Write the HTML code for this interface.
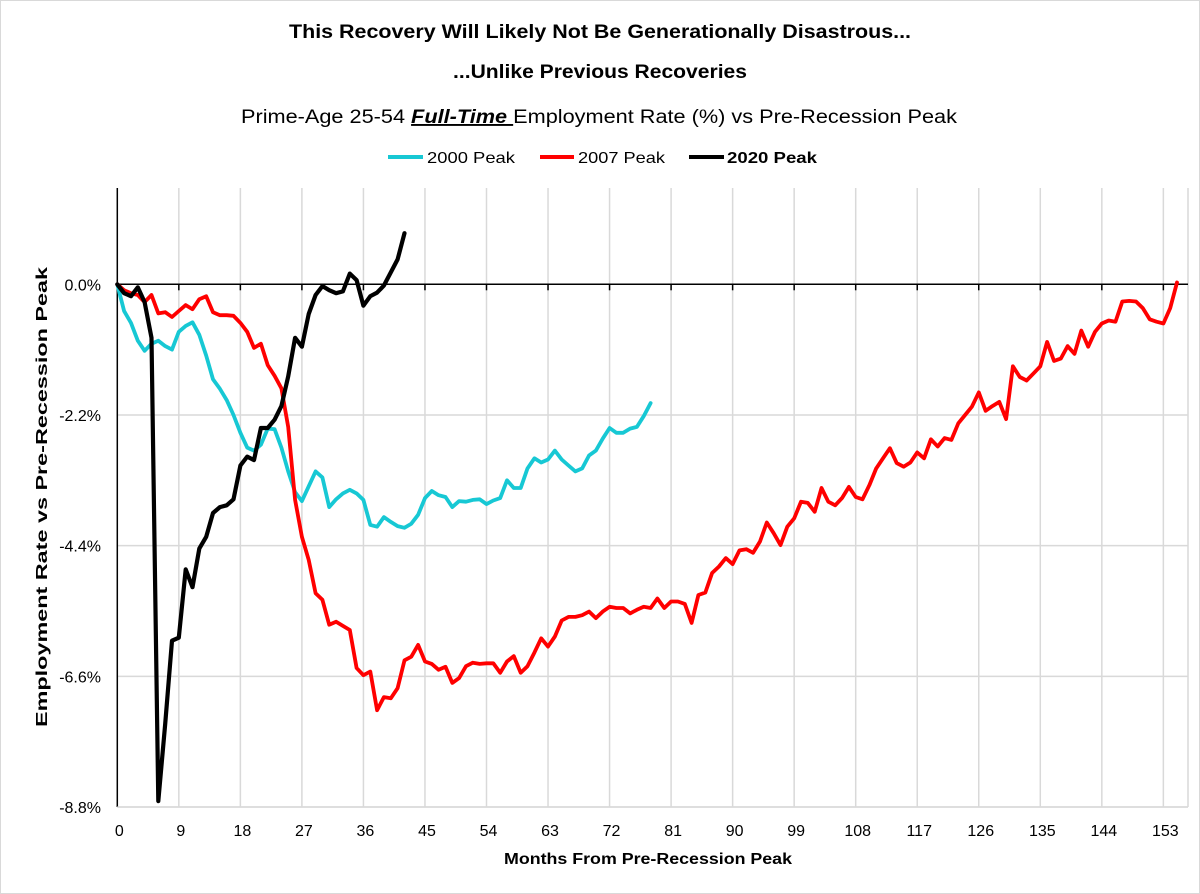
<!DOCTYPE html>
<html><head><meta charset="utf-8"><style>
html,body{margin:0;padding:0;background:#fff}
svg{display:block;font-family:"Liberation Sans",sans-serif}
</style></head><body>
<svg id="chart" width="1200" height="894" viewBox="0 0 1200 894" xmlns="http://www.w3.org/2000/svg">
<rect x="0.5" y="0.5" width="1199" height="893" fill="#fff" stroke="#d9d9d9"/>
<text x="600" y="38" text-anchor="middle" font-size="19" font-weight="bold" textLength="622" lengthAdjust="spacingAndGlyphs">This Recovery Will Likely Not Be Generationally Disastrous...</text>
<text x="600" y="78" text-anchor="middle" font-size="19" font-weight="bold" textLength="294" lengthAdjust="spacingAndGlyphs">...Unlike Previous Recoveries</text>
<text x="241" y="123" font-size="19" textLength="716" lengthAdjust="spacingAndGlyphs">Prime-Age 25-54 <tspan font-style="italic" font-weight="bold" text-decoration="underline">Full-Time </tspan>Employment Rate (%) vs  Pre-Recession Peak</text>
<g font-size="16">
<g><line x1="388" y1="157" x2="423" y2="157" stroke="#17c8d4" stroke-width="4"/><text x="427" y="163" textLength="88" lengthAdjust="spacingAndGlyphs">2000 Peak</text></g>
<g><line x1="540" y1="157" x2="574" y2="157" stroke="#ff0000" stroke-width="4"/><text x="578" y="163" textLength="87" lengthAdjust="spacingAndGlyphs">2007 Peak</text></g>
<g><line x1="689" y1="157" x2="724" y2="157" stroke="#000" stroke-width="4"/><text x="727" y="163" font-weight="bold" textLength="90" lengthAdjust="spacingAndGlyphs">2020 Peak</text></g>
</g>
<g id="grid"></g>
<g id="axes"></g>
<g id="series"></g>
<text x="648" y="864" text-anchor="middle" font-size="16" font-weight="bold" textLength="288" lengthAdjust="spacingAndGlyphs">Months From Pre-Recession Peak</text>
<text transform="translate(47,497) rotate(-90)" text-anchor="middle" font-size="16" font-weight="bold" textLength="460" lengthAdjust="spacingAndGlyphs">Employment Rate vs Pre-Recession Peak</text>
</svg>
<script>
const xTicks = [0,9,18,27,36,45,54,63,72,81,90,99,108,117,126,135,144,153];
const yTicks = [0,-2.2,-4.4,-6.6,-8.8];
const yTickLabels = ["0.0%","-2.2%","-4.4%","-6.6%","-8.8%"];
const series2000 = [0,-0.45,-0.65,-0.95,-1.12,-1.0,-0.95,-1.04,-1.1,-0.8,-0.7,-0.64,-0.85,-1.2,-1.6,-1.76,-1.95,-2.2,-2.5,-2.75,-2.8,-2.7,-2.43,-2.44,-2.75,-3.15,-3.5,-3.65,-3.4,-3.15,-3.25,-3.75,-3.62,-3.52,-3.46,-3.52,-3.63,-4.05,-4.08,-3.92,-4.0,-4.07,-4.1,-4.03,-3.88,-3.6,-3.48,-3.55,-3.58,-3.75,-3.65,-3.66,-3.63,-3.62,-3.7,-3.64,-3.6,-3.3,-3.43,-3.43,-3.1,-2.93,-3.0,-2.95,-2.8,-2.95,-3.05,-3.15,-3.1,-2.88,-2.8,-2.6,-2.42,-2.5,-2.5,-2.43,-2.4,-2.22,-2.0];
const series2007 = [0,-0.1,-0.15,-0.18,-0.3,-0.18,-0.49,-0.47,-0.55,-0.45,-0.35,-0.42,-0.25,-0.2,-0.47,-0.52,-0.52,-0.53,-0.65,-0.8,-1.07,-1.0,-1.36,-1.54,-1.75,-2.4,-3.63,-4.25,-4.64,-5.2,-5.31,-5.73,-5.68,-5.75,-5.82,-6.46,-6.58,-6.52,-7.17,-6.95,-6.97,-6.8,-6.33,-6.27,-6.07,-6.35,-6.39,-6.49,-6.44,-6.71,-6.63,-6.43,-6.37,-6.39,-6.38,-6.38,-6.54,-6.35,-6.26,-6.54,-6.43,-6.2,-5.96,-6.1,-5.93,-5.66,-5.6,-5.6,-5.57,-5.51,-5.62,-5.51,-5.43,-5.45,-5.45,-5.54,-5.48,-5.43,-5.45,-5.29,-5.45,-5.34,-5.34,-5.38,-5.7,-5.23,-5.19,-4.86,-4.75,-4.61,-4.71,-4.48,-4.46,-4.52,-4.33,-4.01,-4.19,-4.39,-4.08,-3.94,-3.66,-3.68,-3.83,-3.43,-3.66,-3.72,-3.6,-3.41,-3.58,-3.62,-3.38,-3.1,-2.93,-2.76,-3.01,-3.07,-3.0,-2.83,-2.93,-2.61,-2.73,-2.59,-2.62,-2.34,-2.2,-2.06,-1.82,-2.13,-2.05,-1.98,-2.27,-1.38,-1.56,-1.62,-1.5,-1.38,-0.97,-1.29,-1.25,-1.04,-1.17,-0.78,-1.05,-0.8,-0.66,-0.61,-0.63,-0.29,-0.28,-0.29,-0.4,-0.59,-0.63,-0.66,-0.4,0.03];
const series2020 = [0,-0.15,-0.2,-0.05,-0.3,-0.9,-8.7,-7.4,-6.0,-5.95,-4.8,-5.1,-4.45,-4.25,-3.85,-3.75,-3.72,-3.62,-3.05,-2.9,-2.96,-2.42,-2.42,-2.28,-2.05,-1.55,-0.9,-1.05,-0.5,-0.18,-0.03,-0.1,-0.15,-0.12,0.18,0.07,-0.36,-0.2,-0.14,-0.02,0.2,0.42,0.86];

const NS="http://www.w3.org/2000/svg";
const X0=117.3, XPX=6.837, Y0=284.3, YPX=59.4, TOP=188, BOT=807, RIGHT=1188;
function xs(m){return X0+m*XPX;}
function ys(v){return Y0-v*YPX;}
function mk(tag,attrs,parent){const e=document.createElementNS(NS,tag);for(const k in attrs)e.setAttribute(k,attrs[k]);parent.appendChild(e);return e;}
const grid=document.getElementById('grid'), axes=document.getElementById('axes'), ser=document.getElementById('series');
xTicks.forEach(t=>{
  if(t>0){const g=mk('line',{x1:xs(t),x2:xs(t),y1:TOP,y2:BOT,stroke:'#d9d9d9','stroke-width':1.5},grid);
  
  }
  const tk=mk('line',{x1:xs(t),x2:xs(t),y1:ys(0),y2:ys(0)+6,stroke:'#000','stroke-width':1.5},axes);
  
  
  const lb=mk('text',{x:xs(t)+2,y:836,'text-anchor':'middle','font-size':16},axes);
  lb.textContent=t;
  
  
});
mk('line',{x1:RIGHT,x2:RIGHT,y1:TOP,y2:BOT,stroke:'#d9d9d9','stroke-width':1.5},grid);
yTicks.forEach((t,i)=>{
  if(t!==0){const g=mk('line',{x1:X0,x2:RIGHT,y1:ys(t),y2:ys(t),stroke:'#d9d9d9','stroke-width':1.5},grid);
  
  }
  const lb=mk('text',{x:101,y:ys(t)+6,'text-anchor':'end','font-size':16},axes);
  lb.textContent=yTickLabels[i];
  
  
});
const zl=mk('line',{x1:X0,x2:RIGHT,y1:ys(0),y2:ys(0),stroke:'#000','stroke-width':1.5},axes);


const ya=mk('line',{x1:X0,x2:X0,y1:TOP,y2:BOT,stroke:'#000','stroke-width':1.5},axes);


const xa=mk('line',{x1:X0,x2:RIGHT,y1:BOT,y2:BOT,stroke:'#d9d9d9','stroke-width':1.5},axes);


function draw(arr,color,w,name){
  const d=arr.map((v,i)=>(i?'L':'M')+xs(i).toFixed(1)+' '+ys(v).toFixed(1)).join(' ');
  const p=mk('path',{d:d,fill:'none',stroke:color,'stroke-width':w,'stroke-linejoin':'round','stroke-linecap':'round'},ser);
  
  
}
draw(series2000,'#17c8d4',3.8,'series-2000-peak');
draw(series2007,'#ff0000',3.8,'series-2007-peak');
draw(series2020,'#000000',4.2,'series-2020-peak');
</script>
</body></html>
